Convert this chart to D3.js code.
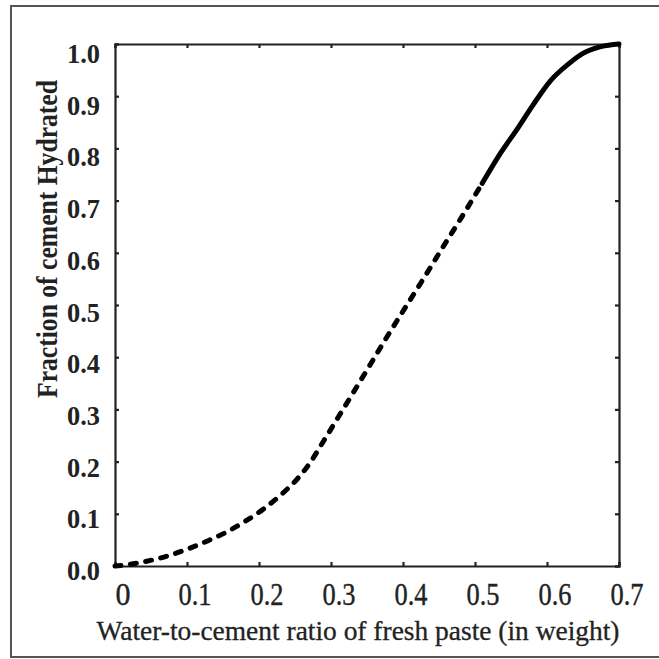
<!DOCTYPE html>
<html>
<head>
<meta charset="utf-8">
<script src="https://cdn.jsdelivr.net/npm/d3@7"></script>
<style>
  html, body { margin: 0; padding: 0; background: #fff; }
  svg { display: block; }
</style>
</head>
<body>
<svg id="chart" width="659" height="659"></svg>
<script>
// Water-to-cement ratio (x) and fraction of cement hydrated (y)
const wcRatio = [0, 0.02, 0.04, 0.07, 0.10, 0.13, 0.155, 0.18, 0.205, 0.23, 0.25, 0.27, 0.29, 0.31, 0.33, 0.355, 0.38, 0.41, 0.435, 0.455, 0.48, 0.51, 0.535, 0.56, 0.58, 0.605, 0.63, 0.65, 0.675, 0.70];
const fractionHydrated = [0, 0.003, 0.008, 0.018, 0.032, 0.049, 0.065, 0.085, 0.108, 0.136, 0.162, 0.196, 0.24, 0.285, 0.33, 0.387, 0.444, 0.51, 0.565, 0.61, 0.665, 0.733, 0.79, 0.84, 0.882, 0.93, 0.962, 0.982, 0.995, 1.0];
// Beyond this ratio the curve is drawn solid
const solidFrom = 0.51;

const xTicks = [0, 0.1, 0.2, 0.3, 0.4, 0.5, 0.6, 0.7];
const xTickLabels = ["0", "0.1", "0.2", "0.3", "0.4", "0.5", "0.6", "0.7"];
const yTicks = [0, 0.1, 0.2, 0.3, 0.4, 0.5, 0.6, 0.7, 0.8, 0.9, 1.0];
const yTickLabels = ["0.0", "0.1", "0.2", "0.3", "0.4", "0.5", "0.6", "0.7", "0.8", "0.9", "1.0"];

const xTitle = "Water-to-cement ratio of fresh paste (in weight)";
const yTitle = "Fraction of cement Hydrated";

const svg = d3.select("#chart");
const W = 659, H = 659;
const plot = { left: 115, top: 44, right: 619, bottom: 566 };
const font = "'Liberation Serif', 'Times New Roman', serif";
const ink = "#222";

// Outer frame
svg.append("rect")
  .attr("x", 11).attr("y", 6)
  .attr("width", W).attr("height", 651)
  .attr("fill", "none")
  .attr("stroke", "#555")
  .attr("stroke-width", 2);

const x = d3.scaleLinear().domain([0, 0.7]).range([plot.left, plot.right]);
const y = d3.scaleLinear().domain([0, 1]).range([plot.bottom, plot.top]);

const tickLen = 4;

// Four-sided axes with short inward ticks
const axisBottom = d3.axisBottom(x).tickValues(xTicks).tickSize(-tickLen).tickFormat("");
const axisTop = d3.axisTop(x).tickValues(xTicks).tickSize(-tickLen).tickFormat("");
const axisLeft = d3.axisLeft(y).tickValues(yTicks).tickSize(-tickLen).tickFormat("");
const axisRight = d3.axisRight(y).tickValues(yTicks).tickSize(-tickLen).tickFormat("");

function styleAxis(g) {
  g.select(".domain").attr("stroke", ink).attr("stroke-width", 2.2);
  g.selectAll(".tick line").attr("stroke", ink).attr("stroke-width", 2.2);
}

svg.append("g").attr("transform", `translate(0,${plot.bottom})`).call(axisBottom).call(styleAxis);
svg.append("g").attr("transform", `translate(0,${plot.top})`).call(axisTop).call(styleAxis);
svg.append("g").attr("transform", `translate(${plot.left},0)`).call(axisLeft).call(styleAxis);
svg.append("g").attr("transform", `translate(${plot.right},0)`).call(axisRight).call(styleAxis);

// Tick labels (tall, narrow serif digits)
svg.append("g").selectAll("text")
  .data(xTicks)
  .join("text")
  .attr("x", d => x(d) + 8)
  .attr("y", 605)
  .attr("text-anchor", "middle")
  .attr("font-family", font)
  .attr("font-size", 31)
  .attr("fill", ink)
  .attr("stroke", ink)
  .attr("stroke-width", 0.4)
  .attr("textLength", (d, i) => xTickLabels[i].length > 1 ? 33 : 15)
  .attr("lengthAdjust", "spacingAndGlyphs")
  .text((d, i) => xTickLabels[i]);

svg.append("g").selectAll("text")
  .data(yTicks)
  .join("text")
  .attr("x", 100)
  .attr("y", d => y(d) + 14 + 5 * d)
  .attr("text-anchor", "end")
  .attr("font-family", font)
  .attr("font-weight", "bold")
  .attr("font-size", 28)
  .attr("fill", ink)
  .attr("textLength", 33)
  .attr("lengthAdjust", "spacingAndGlyphs")
  .text((d, i) => yTickLabels[i]);

// Axis titles
svg.append("text")
  .attr("x", 358)
  .attr("y", 640)
  .attr("text-anchor", "middle")
  .attr("font-family", font)
  .attr("font-size", 27)
  .attr("fill", ink)
  .attr("stroke", ink)
  .attr("stroke-width", 0.3)
  .attr("textLength", 523)
  .attr("lengthAdjust", "spacingAndGlyphs")
  .text(xTitle);

svg.append("text")
  .attr("transform", "translate(57,239) rotate(-90)")
  .attr("text-anchor", "middle")
  .attr("font-family", font)
  .attr("font-weight", "bold")
  .attr("font-size", 30)
  .attr("fill", ink)
  .attr("textLength", 318)
  .attr("lengthAdjust", "spacingAndGlyphs")
  .text(yTitle);

// Hydration curve: dashed part then solid part
const pts = wcRatio.map((v, i) => [v, fractionHydrated[i]]);
const line = d3.line()
  .x(d => x(d[0]))
  .y(d => y(d[1]))
  .curve(d3.curveMonotoneX);

svg.append("path")
  .datum(pts.filter(d => d[0] <= solidFrom))
  .attr("d", line)
  .attr("fill", "none")
  .attr("stroke", "#000")
  .attr("stroke-width", 5)
  .attr("stroke-linecap", "round")
  .attr("stroke-dasharray", "6,9.5");

svg.append("path")
  .datum(pts.filter(d => d[0] >= solidFrom))
  .attr("d", line)
  .attr("fill", "none")
  .attr("stroke", "#000")
  .attr("stroke-linecap", "round")
  .attr("stroke-width", 5);
</script>
</body>
</html>
